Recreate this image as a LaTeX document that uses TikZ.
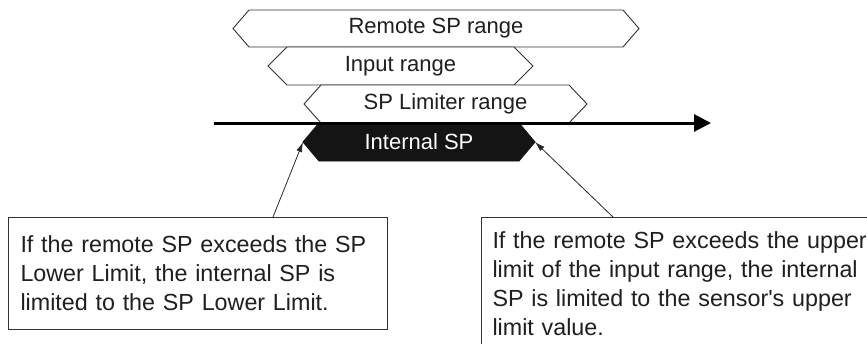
\documentclass[tikz,border=0pt]{standalone}
\usepackage{fontspec}
\setmainfont{Liberation Sans}[Ligatures=TeXOff]
\usetikzlibrary{arrows.meta}
\begin{document}
\begin{tikzpicture}[x=1pt,y=-1pt,
  hexa/.style={draw=black!80, line width=0.9pt, fill=white, line join=miter},
  lab/.style={font=\fontsize{22}{26}\selectfont, text=black!88, inner sep=0pt},
  note/.style={draw=black!80, line width=1pt, fill=white, font=\fontsize{23.3}{29}\selectfont,
    text=black!88, align=left, anchor=north west, inner ysep=0pt},
  callout/.style={line width=0.8pt, draw=black!85, -{Latex[length=10pt,width=6pt]}},
  axis/.style={line width=3pt, -{Triangle[length=17pt,width=17pt]}}]
\useasboundingbox (0,0) rectangle (867,343);
\clip (0,0) rectangle (867,343);

% Remote SP range
\draw[hexa] (249,10) -- (623,10) -- (639,28.5) -- (623,47) -- (249,47) -- (233,28.5) -- cycle;
\node[lab] (remote) at (436,28.5) {Remote SP range};
% Input range
\draw[hexa] (287,47) -- (514,47) -- (533,66) -- (514,85) -- (287,85) -- (268,66) -- cycle;
\node[lab] (input) at (400.5,66) {Input range};
% SP Limiter range
\draw[hexa] (321,85) -- (569,85) -- (587,104) -- (569,123) -- (321,123) -- (304,104) -- cycle;
\node[lab] (limiter) at (445.5,104) {SP Limiter range};
% Internal SP
\coordinate (ilt) at (303,142);
\coordinate (irt) at (535,142);
\filldraw[black!92, line width=0.9pt, line join=miter] (319,123) -- (519,123) -- (irt) -- (519,161) -- (319,161) -- (ilt) -- cycle;
\node[lab, text=white] (internal) at (419,142) {Internal SP};

% axis
\coordinate (a0) at (214,123);
\coordinate (a1) at (711,123);
\draw[axis] (a0) -- (a1);

% notes
\node[note, inner xsep=12pt, text width=355pt, minimum height=112pt] (n1) at (8,217)
  {If the remote SP exceeds the SP\\Lower Limit, the internal SP is\\limited to the SP Lower Limit.};
\node[note, inner xsep=11pt, text width=430pt, minimum height=133pt] (n2) at (481,217)
  {If the remote SP exceeds the upper\\limit of the input range, the internal\\SP is limited to the sensor's upper\\limit value.};

\coordinate (s1) at (273,217);
\coordinate (s2) at (613,217);
\draw[callout] (s1) -- (ilt);
\draw[callout] (s2) -- (irt);
\end{tikzpicture}
\end{document}
